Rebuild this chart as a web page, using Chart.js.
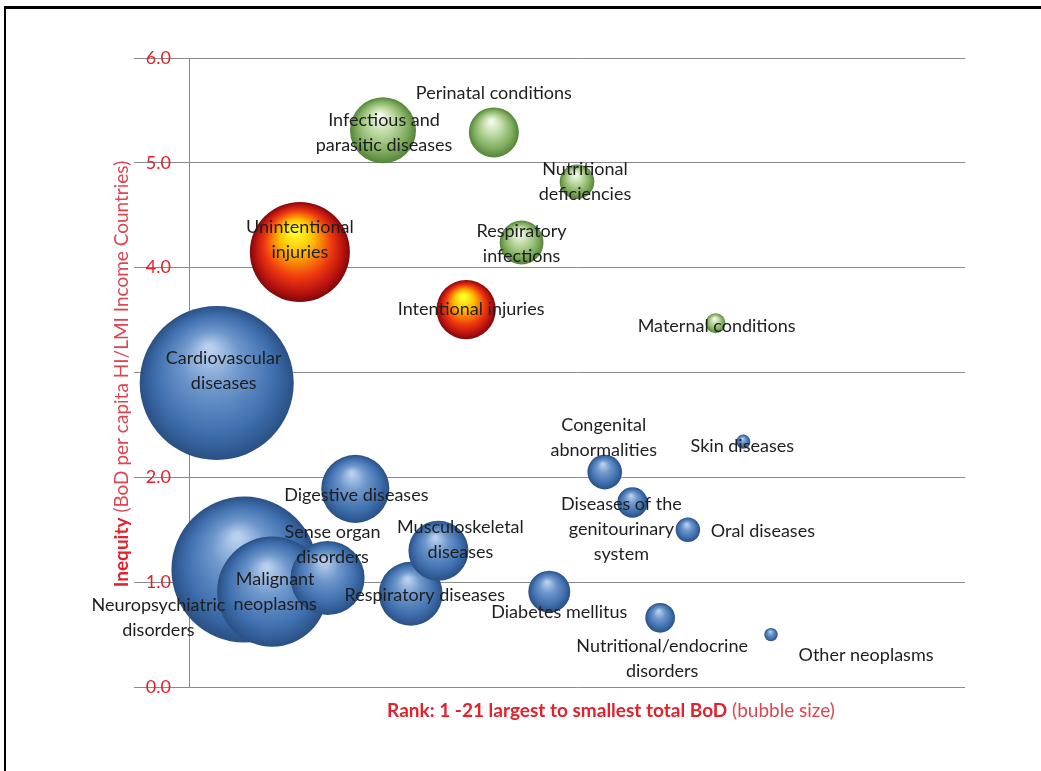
<!DOCTYPE html>
<html>
<head>
<meta charset="utf-8">
<script src="https://cdn.jsdelivr.net/npm/chart.js@4.4.0/dist/chart.umd.min.js"></script>
<style>
  html, body { margin: 0; padding: 0; background: #fff; }
  #wrap { position: relative; width: 1041px; height: 771px; overflow: hidden; }
  #frame { position: absolute; left: 4px; top: 6px; width: 1100px; height: 900px;
           border-left: 2px solid #000; border-top: 3px solid #000; pointer-events: none; }
  canvas { position: absolute; left: 0; top: 0; }
</style>
</head>
<body>
<div id="wrap">
  <canvas id="c" width="1041" height="771"></canvas>
  <div id="frame"></div>
</div>
<script>
// diseases in rank order (1 = largest total BoD)
const diseases = [
  "Cardiovascular diseases", "Neuropsychiatric disorders", "Malignant neoplasms",
  "Unintentional injuries", "Sense organ disorders", "Digestive diseases",
  "Infectious and parasitic diseases", "Respiratory diseases", "Musculoskeletal diseases",
  "Intentional injuries", "Perinatal conditions", "Respiratory infections",
  "Diabetes mellitus", "Nutritional deficiencies", "Congenital abnormalities",
  "Diseases of the genitourinary system", "Nutritional/endocrine disorders", "Oral diseases",
  "Maternal conditions", "Skin diseases", "Other neoplasms"
];
const ranks = [1, 2, 3, 4, 5, 6, 7, 8, 9, 10, 11, 12, 13, 14, 15, 16, 17, 18, 19, 20, 21];
// inequity: BoD per capita HI / LMI income countries
const inequity = [2.90, 1.12, 0.91, 4.15, 1.04, 1.89, 5.31, 0.89, 1.30, 3.60, 5.29,
                  4.24, 0.91, 4.82, 2.05, 1.76, 0.66, 1.50, 3.47, 2.34, 0.50];
// relative total BoD (bubble size)
const totalBoD = [59.3, 53.3, 30.3, 25.0, 13.7, 11.6, 10.9, 10.2, 9.0, 8.8, 6.25,
                  4.8, 4.4, 3.0, 3.0, 2.3, 2.2, 1.5, 1.0, 0.5, 0.45];
// cause group: n = noncommunicable, c = communicable/maternal/perinatal/nutritional, i = injuries
const groups = ["n","n","n","i","n","n","c","n","n","i","c","c","n","c","n","n","n","n","c","n","n"];
const yTicks = [0, 1, 2, 3, 4, 5, 6];

// label text split into lines, and where each label sits relative to its bubble (px)
const labelLines = [
  ["Cardiovascular", "diseases"], ["Neuropsychiatric", "disorders"], ["Malignant", "neoplasms"],
  ["Unintentional", "injuries"], ["Sense organ", "disorders"], ["Digestive diseases"],
  ["Infectious and", "parasitic diseases"], ["Respiratory diseases"], ["Musculoskeletal", "diseases"],
  ["Intentional injuries"], ["Perinatal conditions"], ["Respiratory", "infections"],
  ["Diabetes mellitus"], ["Nutritional", "deficiencies"], ["Congenital", "abnormalities"],
  ["Diseases of the", "genitourinary", "system"], ["Nutritional/endocrine", "disorders"], ["Oral diseases"],
  ["Maternal conditions"], ["Skin diseases"], ["Other neoplasms"]
];
const labelOffsets = [
  [7, -12], [-86, 48], [3, 0], [0, -12], [5, -33], [1, 6], [1, 2], [14, 1], [22, -11],
  [5, 0], [0, -39], [0, 1], [10, 21], [8, 0], [-1, -34], [-11, 27], [2, 41], [75, 1],
  [1, 3], [-1, 4], [95, 21]
];

const RED = "#e3202b";
const FONT = "Lato, 'Open Sans', sans-serif";

// keep the bubble radius from pushing the plot area inwards
Chart.BubbleController.prototype.getMaxOverflow = function () { return 0; };

function sphereFill(ctx) {
  const chart = ctx.chart;
  const raw = ctx.raw;
  if (!raw || !chart.scales.x) return "#4f81bd";
  const cx = chart.scales.x.getPixelForValue(raw.x);
  const cy = chart.scales.y.getPixelForValue(raw.y);
  const r = raw.r;
  if (!isFinite(cx) || !isFinite(cy)) return "#4f81bd";
  const g = chart.ctx.createRadialGradient(cx - r * 0.1, cy - r * 0.45, r * 0.05, cx, cy, r);
  const grp = groups[ctx.dataIndex];
  if (grp === "c") {
    g.addColorStop(0, "#f4f9ee");
    g.addColorStop(0.35, "#c0dba6");
    g.addColorStop(0.75, "#80ad5e");
    g.addColorStop(1, "#54833a");
  } else if (grp === "i") {
    g.addColorStop(0, "#ffff30");
    g.addColorStop(0.3, "#ffc000");
    g.addColorStop(0.65, "#f03a10");
    g.addColorStop(0.9, "#b00e0e");
    g.addColorStop(1, "#7a0a0a");
  } else {
    g.addColorStop(0, "#b8cfee");
    g.addColorStop(0.35, "#6e97cc");
    g.addColorStop(0.75, "#3f6fae");
    g.addColorStop(1, "#2a5085");
  }
  return g;
}

const labelPlugin = {
  id: "bubbleLabels",
  afterDatasetsDraw(chart) {
    const ctx = chart.ctx;
    const meta = chart.getDatasetMeta(0);
    ctx.save();
    ctx.font = "18px " + FONT;
    ctx.fillStyle = "#1e1e1e";
    ctx.textAlign = "center";
    ctx.textBaseline = "middle";
    meta.data.forEach((pt, i) => {
      const lines = labelLines[i];
      const lh = 25;
      const x = pt.x + labelOffsets[i][0];
      const y0 = pt.y + labelOffsets[i][1] - (lines.length - 1) * lh / 2;
      lines.forEach((t, k) => ctx.fillText(t, x, y0 + k * lh));
    });
    ctx.restore();
  }
};

// axis titles with a bold leading part
function mixedText(ctx, x, y, boldPart, normalPart, size) {
  const bf = "bold " + size + "px " + FONT;
  const nf = size + "px " + FONT;
  ctx.font = bf;
  const wb = ctx.measureText(boldPart).width;
  ctx.font = nf;
  const wn = ctx.measureText(normalPart).width;
  let sx = x - (wb + wn) / 2;
  ctx.textAlign = "left";
  ctx.textBaseline = "middle";
  ctx.font = bf;
  ctx.fillStyle = RED;
  ctx.fillText(boldPart, sx, y);
  ctx.font = nf;
  ctx.fillStyle = "#df4451";
  ctx.fillText(normalPart, sx + wb, y);
}

const titlePlugin = {
  id: "axisTitles",
  afterDraw(chart) {
    const ctx = chart.ctx;
    ctx.save();
    mixedText(ctx, 611, 711, "Rank: 1 -21 largest to smallest total BoD", " (bubble size)", 19);
    ctx.translate(122, 374);
    ctx.rotate(-Math.PI / 2);
    mixedText(ctx, 0, 0, "Inequity", " (BoD per capita HI/LMI Income Countries)", 19);
    ctx.restore();
  }
};

const points = ranks.map((x, i) => ({ x: x, y: inequity[i], r: 10 * Math.sqrt(totalBoD[i]) }));

new Chart(document.getElementById("c"), {
  type: "bubble",
  data: {
    datasets: [{
      data: points,
      backgroundColor: sphereFill,
      borderWidth: 0,
      hoverBorderWidth: 0,
      clip: false
    }]
  },
  options: {
    responsive: false,
    animation: false,
    events: [],
    layout: { padding: { top: 58, right: 76, left: 0, bottom: 0 } },
    plugins: { legend: { display: false }, tooltip: { enabled: false } },
    scales: {
      x: {
        type: "linear",
        min: 0,
        max: 28,
        grid: { display: false },
        border: { display: false },
        ticks: { display: false },
        afterFit(scale) { scale.height = 84; }
      },
      y: {
        min: 0,
        max: 6,
        afterBuildTicks(scale) { scale.ticks = yTicks.map(v => ({ value: v })); },
        grid: { color: "#8a8a8a", lineWidth: 1, tickLength: 55 },
        border: { display: true, color: "#8a8a8a", width: 1 },
        ticks: {
          padding: -37,
          color: RED,
          font: { family: FONT, size: 18 },
          callback: v => v.toFixed(1)
        },
        afterFit(scale) { scale.width = 189; }
      }
    }
  },
  plugins: [labelPlugin, titlePlugin]
});
</script>
</body>
</html>
